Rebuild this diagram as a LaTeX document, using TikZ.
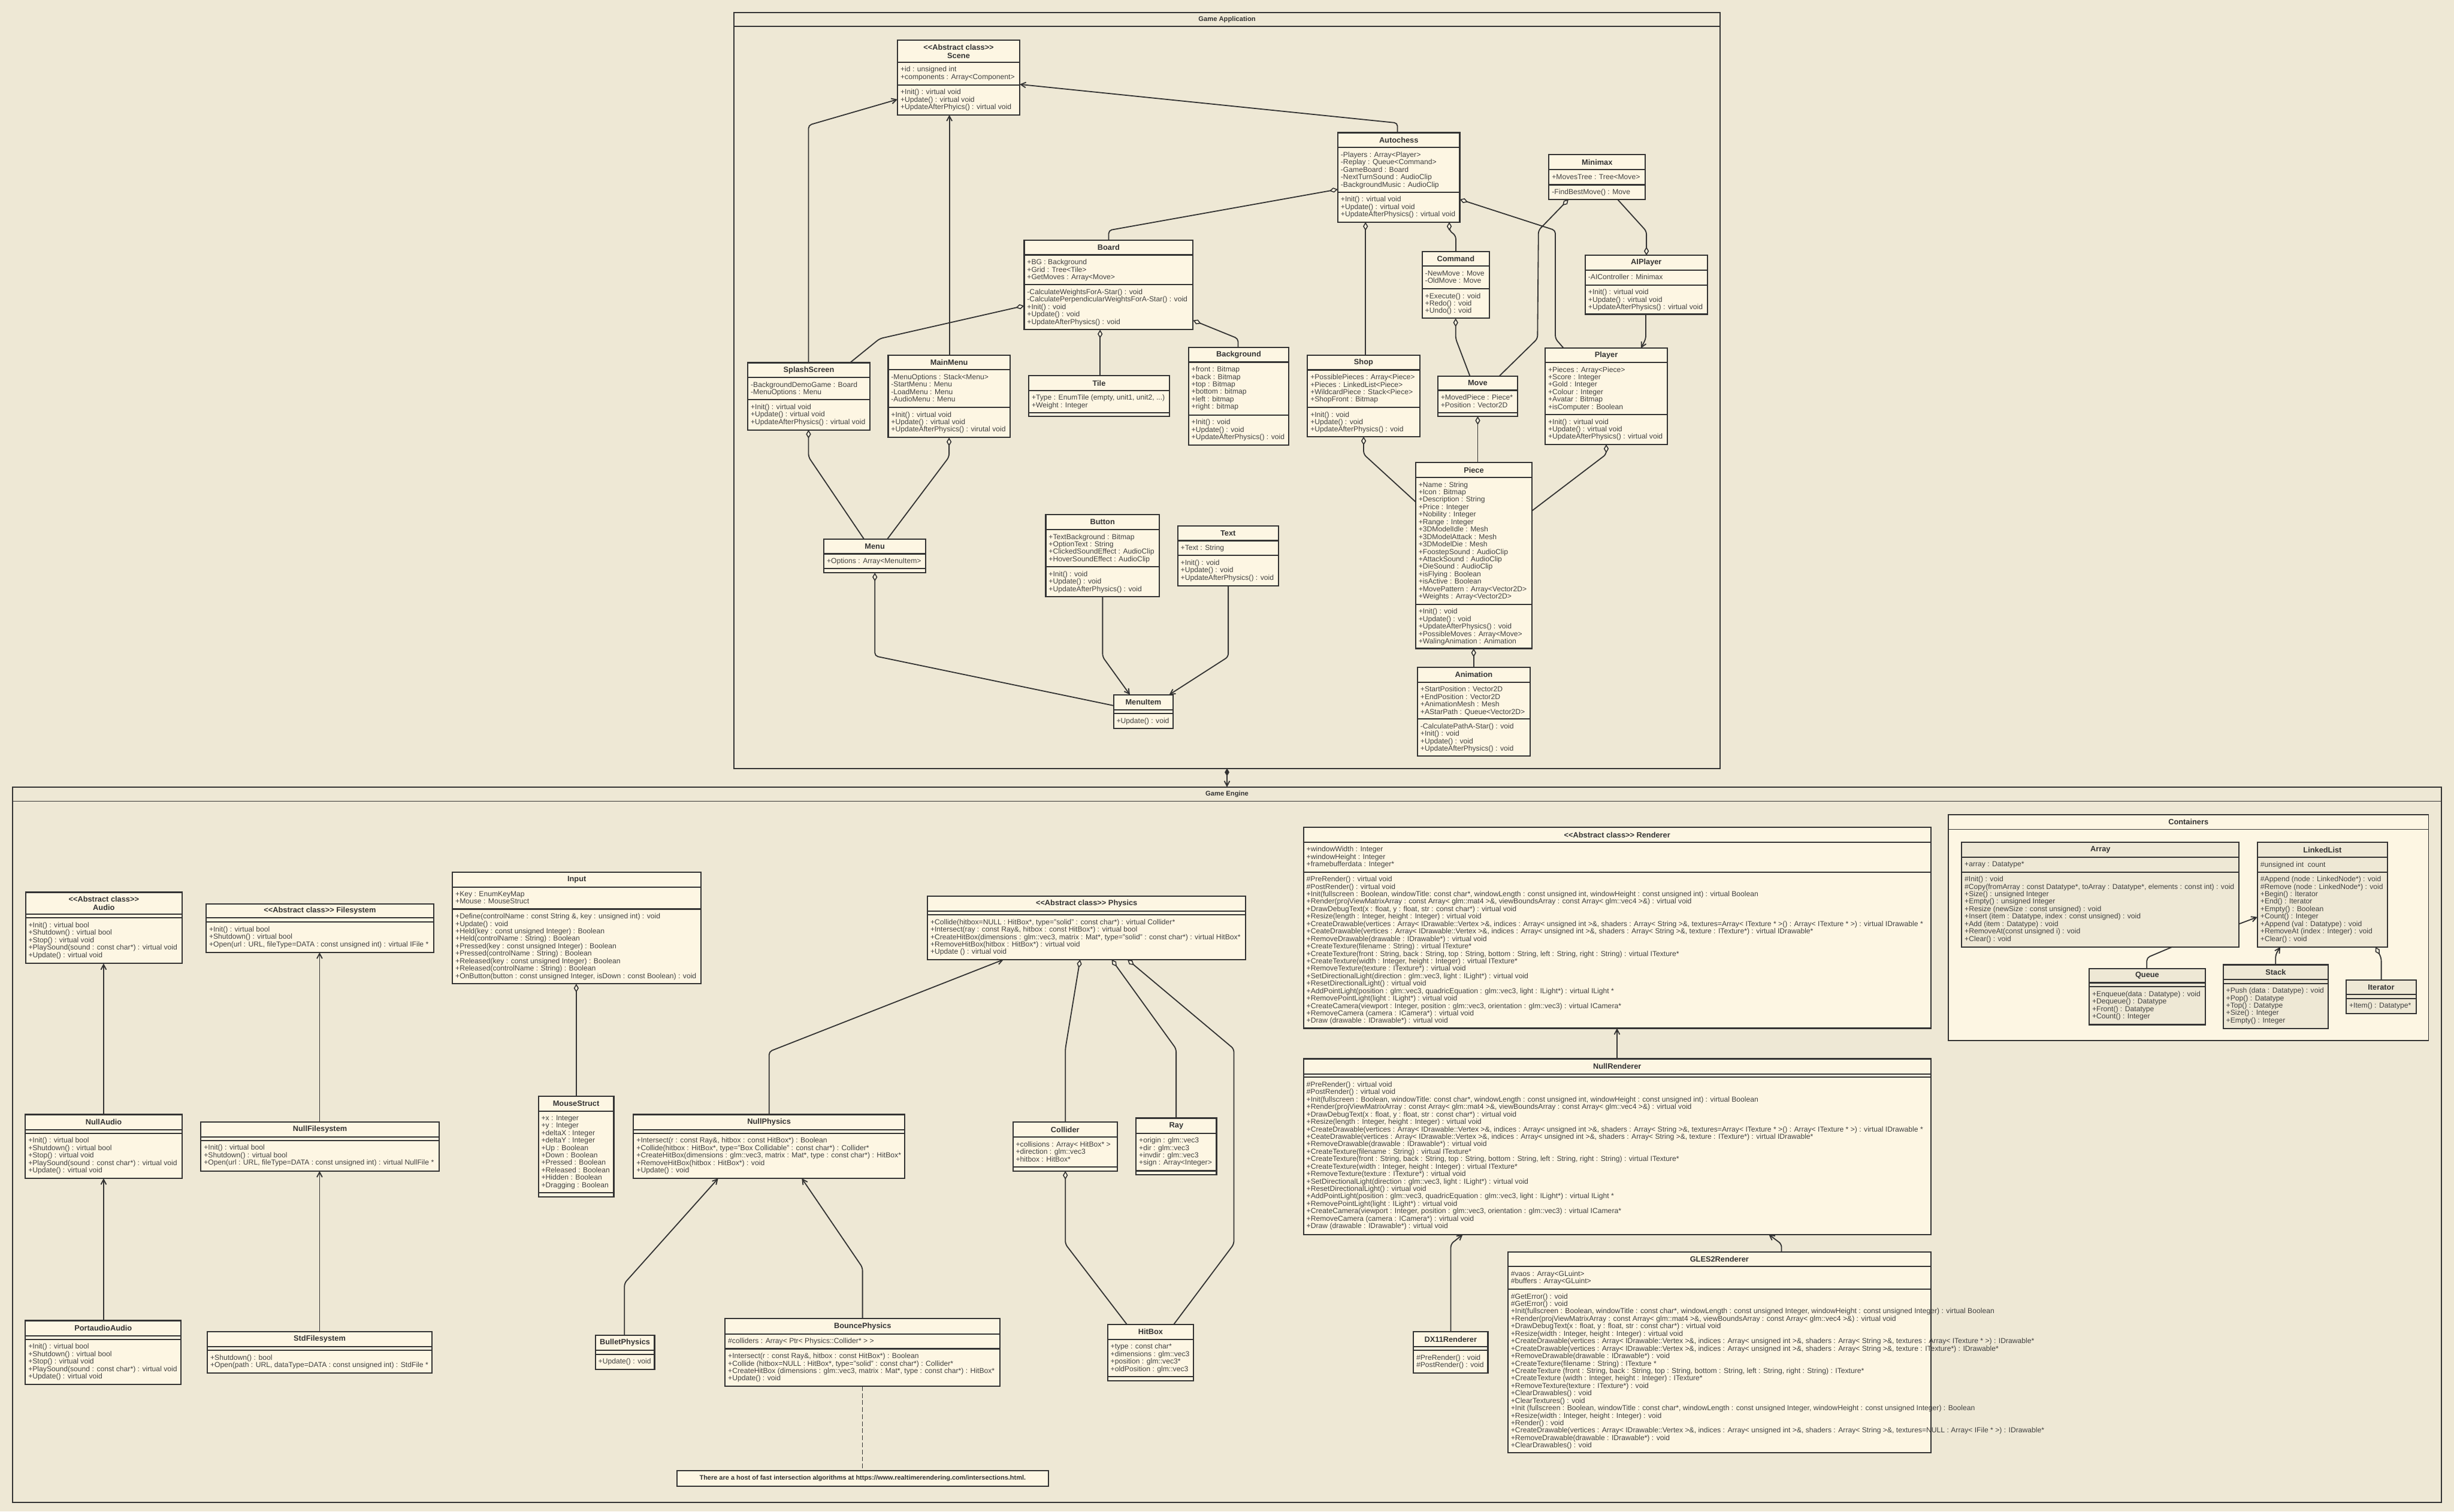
\documentclass[tikz,border=0pt]{standalone}
\usepackage{fontspec}
\setmainfont{Liberation Sans}
\usetikzlibrary{arrows.meta}
\definecolor{bgc}{HTML}{EEE8D5}
\definecolor{boxc}{HTML}{FDF6E3}
\definecolor{linec}{HTML}{333333}
\definecolor{textc}{HTML}{404040}
\newcounter{tc}
\newcommand\umlbox[9][boxc]{%
  \pgfmathsetmacro\bw{#5-#3}\pgfmathsetmacro\bh{#6-#4}%
  \node[draw=linec, fill=#1, line width=0.8pt, inner sep=0pt, outer sep=0pt,
        minimum width=\bw pt, minimum height=\bh pt, anchor=north west] (#2) at (#3,#4) {};
  \draw[sepline] (#3,#7) -- (#5,#7);
  \draw[sepline] (#3,#8) -- (#5,#8);
  \node[titletext] (#2-title) at ({(#3+#5)/2},{(#4+#7)/2}) {#9};
}
\newcommand\members[3]{\stepcounter{tc}\node[membertext] (m\arabic{tc}) at ({#1+1.7},{#2+2.6}) {#3};}
\tikzset{
  sepline/.style={linec, line width=0.8pt},
  titletext/.style={inner sep=0pt, align=center, text=linec, font=\fontsize{4.9}{5.4}\selectfont\bfseries},
  membertext/.style={anchor=north west, inner sep=0pt, align=left, text=textc, font=\fontsize{4.65}{4.76}\selectfont},
  frame/.style={draw=linec, line width=0.7pt, inner sep=0pt, outer sep=0pt, anchor=north west},
  conn/.style={linec, line width=0.7pt, rounded corners=2pt},
  inh/.style={conn, -{Straight Barb[length=3.2pt,width=3.4pt]}},
  agg/.style={conn, {Diamond[fill=boxc,length=5.5pt,width=3.2pt,line width=0.6pt]}-},
  plainc/.style={conn},
}
\begin{document}
\begin{tikzpicture}[x=1pt,y=-1pt]
\fill[bgc] (0,0) rectangle (1568,966);
\useasboundingbox (0,0) rectangle (1568,966);

%% ---------------- frames
\node[frame, fill=bgc, minimum width=630pt, minimum height=483pt] (gameapp) at (469,8) {};
\draw[sepline, line width=0.7pt] (469,17) -- (1099,17);
\node[titletext, font=\fontsize{4.3}{5}\selectfont\bfseries] (gameapp-title) at (784,12.5) {Game Application};

\node[frame, fill=bgc, minimum width=1552pt, minimum height=457pt] (gameengine) at (8,503) {};
\draw[sepline, line width=0.7pt] (8,512) -- (1560,512);
\node[titletext, font=\fontsize{4.3}{5}\selectfont\bfseries] (gameengine-title) at (784,507.5) {Game Engine};

\node[frame, fill=boxc, minimum width=306.7pt, minimum height=144.5pt] (containers) at (1245,520.5) {};
\draw[sepline, line width=0.7pt] (1245,530) -- (1551.7,530);
\node[titletext] (containers-title) at (1398.3,525.2) {Containers};

%% ---------------- Game Application classes
\umlbox{scene}{573.5}{25.8}{651.5}{73.4}{39.7}{54.2}{<{}<Abstract class>{}>\\Scene}
\members{573.5}{39.7}{+id : unsigned int\\+components : Array<Component>}
\members{573.5}{54.2}{+Init() : virtual void\\+Update() : virtual void\\+UpdateAfterPhyics() : virtual void}

\umlbox{autochess}{854.8}{84.8}{932.7}{141.9}{94.3}{122.8}{Autochess}
\members{854.8}{94.3}{-Players : Array<Player>\\-Replay : Queue<Command>\\-GameBoard : Board\\-NextTurnSound : AudioClip\\-BackgroundMusic : AudioClip}
\members{854.8}{122.8}{+Init() : virtual void\\+Update() : virtual void\\+UpdateAfterPhysics() : virtual void}

\umlbox{minimax}{989.7}{98.9}{1051.3}{127.4}{108.5}{118.1}{Minimax}
\members{989.7}{108.5}{+MovesTree : Tree<Move>}
\members{989.7}{118.1}{-FindBestMove() : Move}

\umlbox{aiplayer}{1012.9}{163.2}{1090.9}{200.8}{172.5}{182.1}{AIPlayer}
\members{1012.9}{172.5}{-AIController : Minimax}
\members{1012.9}{182.1}{+Init() : virtual void\\+Update() : virtual void\\+UpdateAfterPhysics() : virtual void}

\umlbox{board}{654.4}{153.4}{762.3}{210.7}{162.9}{181.9}{Board}
\members{654.4}{162.9}{+BG : Background\\+Grid : Tree<Tile>\\+GetMoves : Array<Move>}
\members{654.4}{181.9}{-CalculateWeightsForA-Star() : void\\-CalculatePerpendicularWeightsForA-Star() : void\\+Init() : void\\+Update() : void\\+UpdateAfterPhysics() : void}

\umlbox{splash}{477.8}{231.8}{555.8}{274.7}{241.2}{255.4}{SplashScreen}
\members{477.8}{241.2}{-BackgroundDemoGame : Board\\-MenuOptions : Menu}
\members{477.8}{255.4}{+Init() : virtual void\\+Update() : virtual void\\+UpdateAfterPhysics() : virtual void}

\umlbox{mainmenu}{567.5}{226.9}{645.4}{279.6}{236.3}{260.3}{MainMenu}
\members{567.5}{236.3}{-MenuOptions : Stack<Menu>\\-StartMenu : Menu\\-LoadMenu : Menu\\-AudioMenu : Menu}
\members{567.5}{260.3}{+Init() : virtual void\\+Update() : virtual void\\+UpdateAfterPhysics() : virutal void}

\umlbox{tile}{657.3}{240.1}{747.2}{266.2}{249.5}{263.6}{Tile}
\members{657.3}{249.5}{+Type : EnumTile (empty, unit1, unit2, ...)\\+Weight : Integer}

\umlbox{background}{759.4}{222.2}{823.5}{284.3}{231.4}{265.2}{Background}
\members{759.4}{231.4}{+front : Bitmap\\+back : Bitmap\\+top : Bitmap\\+bottom : bitmap\\+left : bitmap\\+right : bitmap}
\members{759.4}{265.2}{+Init() : void\\+Update() : void\\+UpdateAfterPhysics() : void}

\umlbox{shop}{835.4}{226.9}{907.1}{279}{236.4}{260.3}{Shop}
\members{835.4}{236.4}{+PossiblePieces : Array<Piece>\\+Pieces : LinkedList<Piece>\\+WildcardPiece : Stack<Piece>\\+ShopFront : Bitmap}
\members{835.4}{260.3}{+Init() : void\\+Update() : void\\+UpdateAfterPhysics() : void}

\umlbox{command}{908.7}{160.8}{951.6}{203.4}{170.1}{184.5}{Command}
\members{908.7}{170.1}{-NewMove : Move\\-OldMove : Move}
\members{908.7}{184.5}{+Execute() : void\\+Redo() : void\\+Undo() : void}

\umlbox{move}{918.7}{240.3}{969.6}{266}{249.4}{263.6}{Move}
\members{918.7}{249.4}{+MovedPiece : Piece*\\+Position : Vector2D}

\umlbox{player}{987.3}{222.5}{1065.4}{284}{231.6}{264.9}{Player}
\members{987.3}{231.6}{+Pieces : Array<Piece>\\+Score : Integer\\+Gold : Integer\\+Colour : Integer\\+Avatar : Bitmap\\+isComputer : Boolean}
\members{987.3}{264.9}{+Init() : virtual void\\+Update() : virtual void\\+UpdateAfterPhysics() : virtual void}

\umlbox{piece}{904.5}{295.7}{978.9}{414.4}{305.1}{386.1}{Piece}
\members{904.5}{305.1}{+Name : String\\+Icon : Bitmap\\+Description : String\\+Price : Integer\\+Nobility : Integer\\+Range : Integer\\+3DModelIdle : Mesh\\+3DModelAttack : Mesh\\+3DModelDie : Mesh\\+FoostepSound : AudioClip\\+AttackSound : AudioClip\\+DieSound : AudioClip\\+isFlying : Boolean\\+isActive : Boolean\\+MovePattern : Array<Vector2D>\\+Weights : Array<Vector2D>}
\members{904.5}{386.1}{+Init() : void\\+Update() : void\\+UpdateAfterPhysics() : void\\+PossibleMoves : Array<Move>\\+WalingAnimation : Animation}

\umlbox{animation}{905.7}{426.3}{977.6}{483}{435.9}{459.5}{Animation}
\members{905.7}{435.9}{+StartPosition : Vector2D\\+EndPosition : Vector2D\\+AnimationMesh : Mesh\\+AStarPath : Queue<Vector2D>}
\members{905.7}{459.5}{-CalculatePathA-Star() : void\\+Init() : void\\+Update() : void\\+UpdateAfterPhysics() : void}

\umlbox{menu}{526.4}{344.4}{591.5}{366}{353.9}{363.3}{Menu}
\members{526.4}{353.9}{+Options : Array<MenuItem>}

\umlbox{button}{668.2}{328.8}{740.7}{381.4}{338.4}{362.2}{Button}
\members{668.2}{338.4}{+TextBackground : Bitmap\\+OptionText : String\\+ClickedSoundEffect : AudioClip\\+HoverSoundEffect : AudioClip}
\members{668.2}{362.2}{+Init() : void\\+Update() : void\\+UpdateAfterPhysics() : void}

\umlbox{text}{752.5}{336}{816.8}{374.3}{345.5}{354.9}{Text}
\members{752.5}{345.5}{+Text : String}
\members{752.5}{354.9}{+Init() : void\\+Update() : void\\+UpdateAfterPhysics() : void}

\umlbox{menuitem}{711.5}{444}{749.6}{465.5}{453.5}{455.9}{MenuItem}
\members{711.5}{455.9}{+Update() : void}

%% ---------------- Game Engine classes
\umlbox{audio}{16.3}{570.2}{116.4}{615.7}{584.3}{586.6}{<{}<Abstract class>{}>\\Audio}
\members{16.3}{586.6}{+Init() : virtual bool\\+Shutdown() : virtual bool\\+Stop() : virtual void\\+PlaySound(sound : const char*) : virtual void\\+Update() : virtual void}

\umlbox{filesystem}{131.7}{577.5}{277.1}{608.6}{586.6}{589.2}{<{}<Abstract class>{}> Filesystem}
\members{131.7}{589.2}{+Init() : virtual bool\\+Shutdown() : virtual bool\\+Open(url : URL, fileType=DATA : const unsigned int) : virtual IFile *}

\umlbox{input}{289.1}{557.4}{448}{628.7}{566.8}{580.9}{Input}
\members{289.1}{566.8}{+Key : EnumKeyMap\\+Mouse : MouseStruct}
\members{289.1}{580.9}{+Define(controlName : const String \&, key : unsigned int) : void\\+Update() : void\\+Held(key : const unsigned Integer) : Boolean\\+Held(controlName : String) : Boolean\\+Pressed(key : const unsigned Integer) : Boolean\\+Pressed(controlName : String) : Boolean\\+Released(key : const unsigned Integer) : Boolean\\+Released(controlName : String) : Boolean\\+OnButton(button : const unsigned Integer, isDown : const Boolean) : void}

\umlbox{physics}{592.6}{572.8}{796}{613.2}{582.2}{584.6}{<{}<Abstract class>{}> Physics}
\members{592.6}{584.6}{+Collide(hitbox=NULL : HitBox*, type="solid" : const char*) : virtual Collider*\\+Intersect(ray : const Ray\&, hitbox : const HitBox*) : virtual bool\\+CreateHitBox(dimensions : glm::vec3, matrix : Mat*, type="solid" : const char*) : virtual HitBox*\\+RemoveHitBox(hitbox : HitBox*) : virtual void\\+Update () : virtual void}

\umlbox{renderer}{832.9}{528.8}{1233.7}{657.1}{538.1}{557.2}{<{}<Abstract class>{}> Renderer}
\members{832.9}{538.1}{+windowWidth : Integer\\+windowHeight : Integer\\+framebufferdata : Integer*}
\members{832.9}{557.2}{\#PreRender() : virtual void\\\#PostRender() : virtual void\\+Init(fullscreen : Boolean, windowTitle: const char*, windowLength : const unsigned int, windowHeight : const unsigned int) : virtual Boolean\\+Render(projViewMatrixArray : const Array< glm::mat4 >\&, viewBoundsArray : const Array< glm::vec4 >\&) : virtual void\\+DrawDebugText(x : float, y : float, str : const char*) : virtual void\\+Resize(length : Integer, height : Integer) : virtual void\\+CreateDrawable(vertices : Array< IDrawable::Vertex >\&, indices : Array< unsigned int >\&, shaders : Array< String >\&, textures=Array< ITexture * >() : Array< ITexture * >) : virtual IDrawable *\\+CeateDrawable(vertices : Array< IDrawable::Vertex >\&, indices : Array< unsigned int >\&, shaders : Array< String >\&, texture : ITexture*) : virtual IDrawable*\\+RemoveDrawable(drawable : IDrawable*) : virtual void\\+CreateTexture(filename : String) : virtual ITexture*\\+CreateTexture(front : String, back : String, top : String, bottom : String, left : String, right : String) : virtual ITexture*\\+CreateTexture(width : Integer, height : Integer) : virtual ITexture*\\+RemoveTexture(texture : ITexture*) : virtual void\\+SetDirectionalLight(direction : glm::vec3, light : ILight*) : virtual void\\+ResetDirectionalLight() : virtual void\\+AddPointLight(position : glm::vec3, quadricEquation : glm::vec3, light : ILight*) : virtual ILight *\\+RemovePointLight(light : ILight*) : virtual void\\+CreateCamera(viewport : Integer, position : glm::vec3, orientation : glm::vec3) : virtual ICamera*\\+RemoveCamera (camera : ICamera*) : virtual void\\+Draw (drawable : IDrawable*) : virtual void}

\umlbox{nullrenderer}{832.9}{676.6}{1233.7}{788.8}{686.2}{688.4}{NullRenderer}
\members{832.9}{688.4}{\#PreRender() : virtual void\\\#PostRender() : virtual void\\+Init(fullscreen : Boolean, windowTitle: const char*, windowLength : const unsigned int, windowHeight : const unsigned int) : virtual Boolean\\+Render(projViewMatrixArray : const Array< glm::mat4 >\&, viewBoundsArray : const Array< glm::vec4 >\&) : virtual void\\+DrawDebugText(x : float, y : float, str : const char*) : virtual void\\+Resize(length : Integer, height : Integer) : virtual void\\+CreateDrawable(vertices : Array< IDrawable::Vertex >\&, indices : Array< unsigned int >\&, shaders : Array< String >\&, textures=Array< ITexture * >() : Array< ITexture * >) : virtual IDrawable *\\+CeateDrawable(vertices : Array< IDrawable::Vertex >\&, indices : Array< unsigned int >\&, shaders : Array< String >\&, texture : ITexture*) : virtual IDrawable*\\+RemoveDrawable(drawable : IDrawable*) : virtual void\\+CreateTexture(filename : String) : virtual ITexture*\\+CreateTexture(front : String, back : String, top : String, bottom : String, left : String, right : String) : virtual ITexture*\\+CreateTexture(width : Integer, height : Integer) : virtual ITexture*\\+RemoveTexture(texture : ITexture*) : virtual void\\+SetDirectionalLight(direction : glm::vec3, light : ILight*) : virtual void\\+ResetDirectionalLight() : virtual void\\+AddPointLight(position : glm::vec3, quadricEquation : glm::vec3, light : ILight*) : virtual ILight *\\+RemovePointLight(light : ILight*) : virtual void\\+CreateCamera(viewport : Integer, position : glm::vec3, orientation : glm::vec3) : virtual ICamera*\\+RemoveCamera (camera : ICamera*) : virtual void\\+Draw (drawable : IDrawable*) : virtual void}

\umlbox{gles2}{963.5}{800.2}{1233.7}{928.3}{809.4}{823.8}{GLES2Renderer}
\members{963.5}{809.4}{\#vaos : Array<GLuint>\\\#buffers : Array<GLuint>}
\members{963.5}{823.8}{\#GetError() : void\\\#GetError() : void\\+Init(fullscreen : Boolean, windowTitle : const char*, windowLength : const unsigned Integer, windowHeight : const unsigned Integer) : virtual Boolean\\+Render(projViewMatrixArray : const Array< glm::mat4 >\&, viewBoundsArray : const Array< glm::vec4 >\&) : virtual void\\+DrawDebugText(x : float, y : float, str : const char*) : virtual void\\+Resize(width : Integer, height : Integer) : virtual void\\+CreateDrawable(vertices : Array< IDrawable::Vertex >\&, indices : Array< unsigned int >\&, shaders : Array< String >\&, textures : Array< ITexture * >) : IDrawable*\\+CreateDrawable(vertices : Array< IDrawable::Vertex >\&, indices : Array< unsigned int >\&, shaders : Array< String >\&, texture : ITexture*) : IDrawable*\\+RemoveDrawable(drawable : IDrawable*) : void\\+CreateTexture(filename : String) : ITexture *\\+CreateTexture (front : String, back : String, top : String, bottom : String, left : String, right : String) : ITexture*\\+CreateTexture (width : Integer, height : Integer) : ITexture*\\+RemoveTexture(texture : ITexture*) : void\\+ClearDrawables() : void\\+ClearTextures() : void\\+Init (fullscreen : Boolean, windowTitle : const char*, windowLength : const unsigned Integer, windowHeight : const unsigned Integer) : Boolean\\+Resize(width : Integer, height : Integer) : void\\+Render() : void\\+CreateDrawable(vertices : Array< IDrawable::Vertex >\&, indices : Array< unsigned int >\&, shaders : Array< String >\&, textures=NULL : Array< IFile * >) : IDrawable*\\+RemoveDrawable(drawable : IDrawable*) : void\\+ClearDrawables() : void}

\umlbox{nullaudio}{16.2}{712.2}{116.3}{753}{721.9}{724.2}{NullAudio}
\members{16.2}{724.2}{+Init() : virtual bool\\+Shutdown() : virtual bool\\+Stop() : virtual void\\+PlaySound(sound : const char*) : virtual void\\+Update() : virtual void}

\umlbox{nullfs}{128.4}{717}{280.5}{748.3}{726.6}{728.8}{NullFilesystem}
\members{128.4}{728.8}{+Init() : virtual bool\\+Shutdown() : virtual bool\\+Open(url : URL, fileType=DATA : const unsigned int) : virtual NullFile *}

\umlbox{mousestruct}{344}{700.4}{392.2}{765}{710}{762}{MouseStruct}
\members{344}{710}{+x : Integer\\+y : Integer\\+deltaX : Integer\\+deltaY : Integer\\+Up : Boolean\\+Down : Boolean\\+Pressed : Boolean\\+Released : Boolean\\+Hidden : Boolean\\+Dragging : Boolean}

\umlbox{nullphysics}{404.8}{712.2}{578}{753}{721.9}{724.2}{NullPhysics}
\members{404.8}{724.2}{+Intersect(r : const Ray\&, hitbox : const HitBox*) : Boolean\\+Collide(hitbox : HitBox*, type="Box Collidable" : const char*) : Collider*\\+CreateHitBox(dimensions : glm::vec3, matrix : Mat*, type : const char*) : HitBox*\\+RemoveHitBox(hitbox : HitBox*) : void\\+Update() : void}

\umlbox{collider}{647.2}{717}{713.9}{748.3}{726.6}{745.7}{Collider}
\members{647.2}{726.6}{+collisions : Array< HitBox* >\\+direction : glm::vec3\\+hitbox : HitBox*}

\umlbox{ray}{725.9}{714.5}{777.3}{750.7}{724.1}{748.2}{Ray}
\members{725.9}{724.1}{+origin : glm::vec3\\+dir : glm::vec3\\+invdir : glm::vec3\\+sign : Array<Integer>}

\umlbox{portaudio}{16.2}{843.9}{115.7}{884.8}{853.5}{855.8}{PortaudioAudio}
\members{16.2}{855.8}{+Init() : virtual bool\\+Shutdown() : virtual bool\\+Stop() : virtual void\\+PlaySound(sound : const char*) : virtual void\\+Update() : virtual void}

\umlbox{stdfs}{132.5}{851}{276}{877.5}{860.5}{863}{StdFilesystem}
\members{132.5}{863}{+Shutdown() : bool\\+Open(path : URL, dataType=DATA : const unsigned int) : StdFile *}

\umlbox{bullet}{380.4}{853.3}{418.2}{875.1}{862.8}{865.4}{BulletPhysics}
\members{380.4}{865.4}{+Update() : void}

\umlbox{bounce}{463.3}{842.7}{639}{885.8}{852.4}{861.9}{BouncePhysics}
\members{463.3}{852.4}{\#colliders : Array< Ptr< Physics::Collider* > >}
\members{463.3}{861.9}{+Intersect(r : const Ray\&, hitbox : const HitBox*) : Boolean\\+Collide (hitbox=NULL : HitBox*, type="solid" : const char*) : Collider*\\+CreateHitBox (dimensions : glm::vec3, matrix : Mat*, type : const char*) : HitBox*\\+Update() : void}

\umlbox{hitbox}{707.7}{846.3}{762.6}{882.3}{855.8}{879.8}{HitBox}
\members{707.7}{855.8}{+type : const char*\\+dimensions : glm::vec3\\+position : glm::vec3*\\+oldPosition : glm::vec3}

\umlbox{dx11}{903.1}{851}{950.7}{877.5}{860.5}{863}{DX11Renderer}
\members{903.1}{863}{\#PreRender() : void\\\#PostRender() : void}

\node[frame, fill=boxc, line width=0.8pt, minimum width=237.6pt, minimum height=10pt] (note) at (432.4,939.8) {};
\node[titletext, font=\fontsize{4.2}{5}\selectfont\bfseries] (note-text) at (551.2,944.8) {There are a host of fast intersection algorithms at https://www.realtimerendering.com/intersections.html.};

%% ---------------- Containers classes
\umlbox[bgc]{array}{1253.4}{538.3}{1430.7}{605.1}{547.8}{557.2}{Array}
\members{1253.4}{547.8}{+array : Datatype*}
\members{1253.4}{557.2}{\#Init() : void\\\#Copy(fromArray : const Datatype*, toArray : Datatype*, elements : const int) : void\\+Size() : unsigned Integer\\+Empty() : unsigned Integer\\+Resize (newSize : const unsigned) : void\\+Insert (item : Datatype, index : const unsigned) : void\\+Add (item : Datatype) : void\\+RemoveAt(const unsigned i) : void\\+Clear() : void}

\umlbox[bgc]{linkedlist}{1442.4}{538.3}{1525.5}{605.1}{547.8}{557.2}{LinkedList}
\members{1442.4}{547.8}{\#unsigned int~ count}
\members{1442.4}{557.2}{\#Append (node : LinkedNode*) : void\\\#Remove (node : LinkedNode*) : void\\+Begin() : Iterator\\+End() : Iterator\\+Empty() : Boolean\\+Count() : Integer\\+Append (val : Datatype) : void\\+RemoveAt (index : Integer) : void\\+Clear() : void}

\umlbox[bgc]{queue}{1334.9}{618.9}{1409}{654.8}{628}{630.6}{Queue}
\members{1334.9}{630.6}{+Enqueue(data : Datatype) : void\\+Dequeue() : Datatype\\+Front() : Datatype\\+Count() : Integer}

\umlbox[bgc]{stack}{1420.5}{616.5}{1487.7}{657.2}{626}{628.4}{Stack}
\members{1420.5}{628.4}{+Push (data : Datatype) : void\\+Pop() : Datatype\\+Top() : Datatype\\+Size() : Integer\\+Empty() : Integer}

\umlbox[bgc]{iterator}{1499.1}{626.2}{1543.8}{647.7}{635.6}{638}{Iterator}
\members{1499.1}{638}{+Item() : Datatype*}

%% ---------------- connectors: Game Application
\draw[inh] (splash.north -| 516.6,0) -- (516.6,80) -- (scene.west |- 0,63.5);
\draw[inh] (mainmenu.north -| 606.6,0) -- (scene.south -| 606.6,0);
\draw[inh] (autochess.north -| 892.9,0) -- (892.9,78.6) -- (scene.east |- 0,53.9);
\draw[agg] (autochess.west |- 0,121) -- (708.4,147.2) -- (board.north -| 708.4,0);
\draw[agg] (autochess.south -| 872.5,0) -- (shop.north -| 872.5,0);
\draw[agg] (autochess.south -| 926,0) -- (926,147.2) -- (930.2,150.7) -- (command.north -| 930.2,0);
\draw[agg] (autochess.east |- 0,127.4) -- (993.8,147.2) -- (993.8,216.4) -- (player.north -| 999.1,0);
\draw[agg] (minimax.south -| 1002.2,0) -- (983,147.2) -- (982.4,216.4) -- (move.north -| 958,0);
\draw[agg] (aiplayer.north -| 1052,0) -- (1052,147.8) -- (minimax.south -| 1033.5,0);
\draw[inh] (aiplayer.south -| 1051.6,0) -- (1051.6,216.4) -- (player.north -| 1048.5,0);
\draw[agg] (command.south -| 930.1,0) -- (930.1,216.4) -- (move.north -| 939.2,0);
\draw[agg] (move.south -| 944.2,0) -- (piece.north -| 944.2,0);
\draw[agg] (shop.south -| 871.3,0) -- (871.3,290.3) -- (piece.west |- 0,320.7);
\draw[agg] (player.south -| 1026.3,0) -- (1026.3,290.3) -- (piece.east |- 0,326.4);
\draw[agg] (piece.south -| 941.6,0) -- (animation.north -| 941.6,0);
\draw[agg] (board.south -| 702.9,0) -- (tile.north -| 702.9,0);
\draw[agg] (board.east |- 0,204.7) -- (791.1,216.4) -- (background.north -| 791.1,0);
\draw[agg] (board.west |- 0,195.4) -- (562.1,216.4) -- (splash.north -| 543.1,0);
\draw[agg] (splash.south -| 516.6,0) -- (516.6,292) -- (menu.north -| 552,0);
\draw[agg] (mainmenu.south -| 606.4,0) -- (606.4,292) -- (menu.north -| 567,0);
\draw[agg] (menu.south -| 559,0) -- (559,419.2) -- (menuitem.west |- 0,450.9);
\draw[inh] (button.south -| 704.5,0) -- (704.5,419.7) -- (menuitem.north -| 722,0);
\draw[inh] (text.south -| 784.8,0) -- (784.8,419.7) -- (menuitem.north -| 747,0);

%% application -> engine
\draw[conn, {Diamond[fill=linec,length=5pt,width=3pt]}-{Straight Barb[length=3.2pt,width=3.4pt]}] (gameapp.south -| 784,0) -- (gameengine.north -| 784,0);

%% ---------------- connectors: Game Engine
\draw[inh] (nullaudio.north -| 66.2,0) -- (audio.south -| 66.2,0);
\draw[inh] (portaudio.north -| 66.2,0) -- (nullaudio.south -| 66.2,0);
\draw[inh] (nullfs.north -| 204.2,0) -- (filesystem.south -| 204.2,0);
\draw[inh] (stdfs.north -| 204.2,0) -- (nullfs.south -| 204.2,0);
\draw[agg] (input.south -| 368.2,0) -- (mousestruct.north -| 368.2,0);
\draw[inh] (nullphysics.north -| 491.4,0) -- (491.4,672) -- (physics.south -| 641.2,0);
\draw[inh] (bullet.north -| 399,0) -- (399,820) -- (nullphysics.south -| 458.9,0);
\draw[inh] (bounce.north -| 551.1,0) -- (551.1,810) -- (nullphysics.south -| 512.3,0);
\draw[agg] (physics.south -| 690.1,0) -- (680.7,670.3) -- (collider.north -| 680.7,0);
\draw[agg] (physics.south -| 710.3,0) -- (751.5,670.3) -- (ray.north -| 751.5,0);
\draw[agg] (physics.south -| 720.4,0) -- (788.4,670.3) -- (788.4,795) -- (hitbox.north -| 750,0);
\draw[agg] (collider.south -| 680.7,0) -- (680.7,795) -- (hitbox.north -| 720,0);
\draw[inh] (nullrenderer.north -| 1033.2,0) -- (renderer.south -| 1033.2,0);
\draw[inh] (dx11.north -| 927,0) -- (927,795) -- (nullrenderer.south -| 934.7,0);
\draw[inh] (gles2.north -| 1138.3,0) -- (1138.3,795) -- (nullrenderer.south -| 1130.1,0);
\draw[conn, dashed, dash pattern=on 3pt off 1.5pt, line width=0.5pt] (bounce.south -| 551.1,0) -- (note.north -| 551.1,0);

%% ---------------- connectors: Containers
\draw[plainc] (queue.north -| 1371.7,0) -- (1371.7,612) -- (array.south -| 1388,0);
\draw[inh] (stack.north -| 1454,0) -- (1454,610) -- (linkedlist.south -| 1457,0);
\draw[inh] (array.east |- 0,590.4) -- (linkedlist.west |- 0,586);
\draw[agg] (linkedlist.south -| 1517.8,0) -- (1521.5,612) -- (iterator.north -| 1521.5,0);
\end{tikzpicture}
\end{document}
